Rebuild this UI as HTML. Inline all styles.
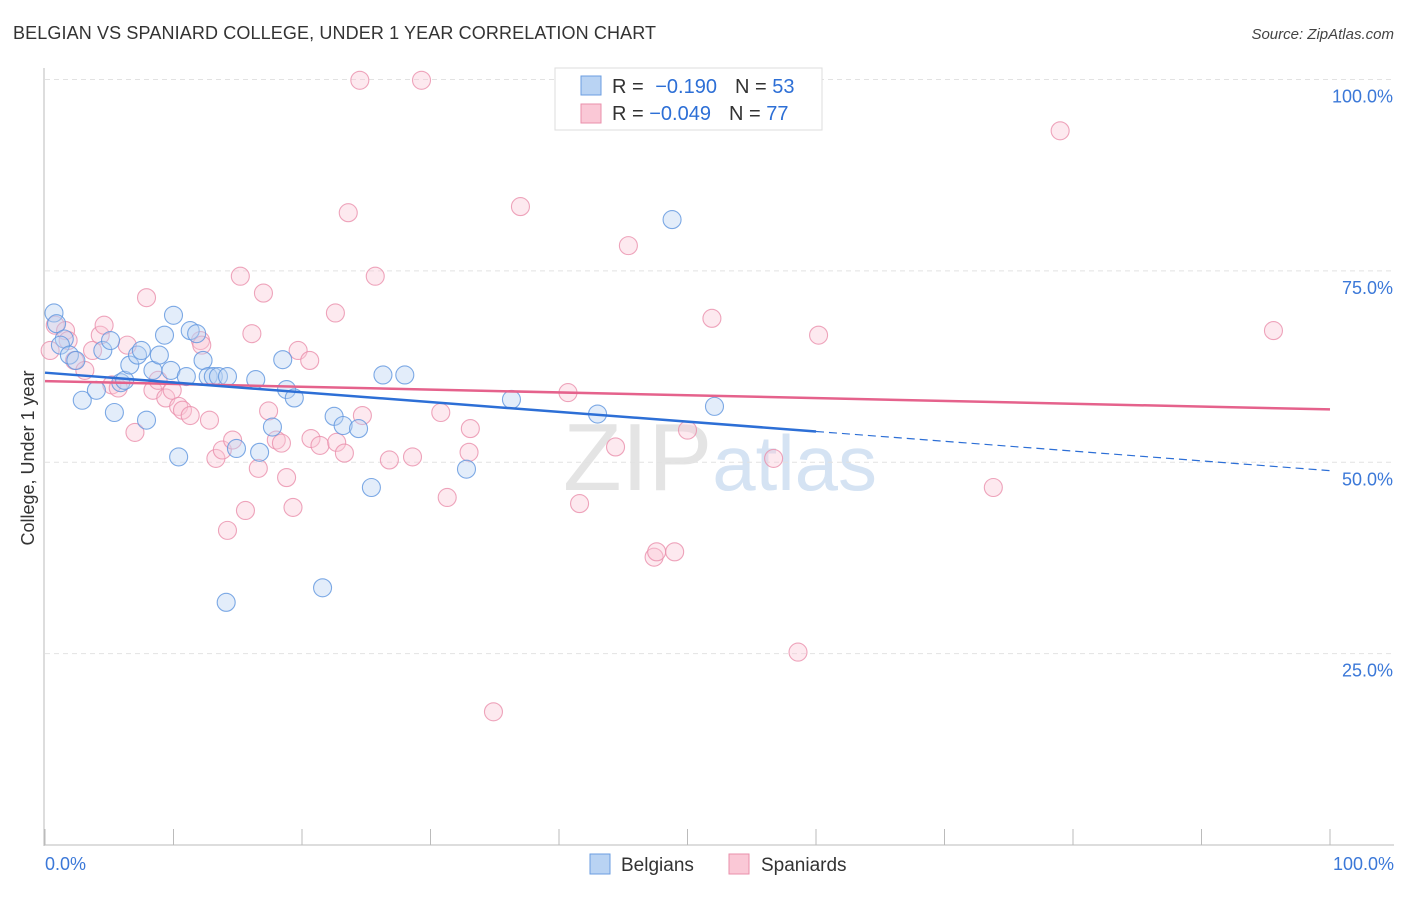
<!DOCTYPE html>
<html><head><meta charset="utf-8"><style>
body{margin:0;background:#fff;font-family:"Liberation Sans",sans-serif;}
svg text{font-family:"Liberation Sans",sans-serif;}
</style></head><body>
<svg id="chart" width="1406" height="892" xmlns="http://www.w3.org/2000/svg">
<text x="13" y="39" font-size="18" fill="#333" textLength="643">BELGIAN VS SPANIARD COLLEGE, UNDER 1 YEAR CORRELATION CHART</text>
<text x="1394" y="39" font-size="15" fill="#444" text-anchor="end" font-style="italic">Source: ZipAtlas.com</text>
<text x="720" y="490" font-size="96" fill="#e4e4e4" text-anchor="middle" font-family="Liberation Serif">ZIP<tspan fill="#d5e3f3" font-family="Liberation Sans" font-size="78">atlas</tspan></text>
<g id="grid"></g>
<g id="axes"></g>
<g id="points"></g>
<g id="trends"></g>
<text transform="translate(34,458) rotate(-90)" font-size="18" fill="#333" text-anchor="middle">College, Under 1 year</text>
<g>
<rect x="555" y="68" width="267" height="62" fill="#fff" stroke="#ddd"/>
<rect x="581" y="76" width="20" height="19" fill="#b9d3f3" stroke="#6b9ee0"/>
<rect x="581" y="104" width="20" height="19" fill="#fac8d6" stroke="#ea8fab"/>
<text x="612" y="93" font-size="20" fill="#333">R =  <tspan fill="#2d6fd6" dx="6">&#8722;0.190</tspan><tspan dx="18">N = </tspan><tspan fill="#2d6fd6">53</tspan></text>
<text x="612" y="120" font-size="20" fill="#333">R = <tspan fill="#2d6fd6">&#8722;0.049</tspan><tspan dx="18">N = </tspan><tspan fill="#2d6fd6">77</tspan></text>
</g>
<g>
<rect x="590" y="854" width="20" height="20" fill="#b9d3f3" stroke="#6b9ee0"/>
<text x="621" y="871" font-size="19" fill="#333">Belgians</text>
<rect x="729" y="854" width="20" height="20" fill="#fac8d6" stroke="#ea8fab"/>
<text x="761" y="871" font-size="19" fill="#333">Spaniards</text>
</g>
</svg>
<script>
const yTicks=[25,50,75,100];
const yTickLabels=["25.0%","50.0%","75.0%","100.0%"];
const xTickLabels=["0.0%","100.0%"];
const belgianX=[0.7,0.9,1.5,1.2,1.9,2.4,2.9,4.0,4.5,5.1,5.4,5.9,6.2,6.6,7.2,7.5,7.9,8.4,8.9,9.3,9.8,10.0,10.4,11.0,11.3,11.8,12.3,12.7,13.1,13.5,14.2,14.1,14.9,16.4,16.7,17.7,18.5,18.8,19.4,21.6,22.5,23.2,24.4,25.4,26.3,28.0,32.8,36.3,43.0,48.8,52.1];
const belgianY=[69.5,68.1,66.1,65.3,64.0,63.3,58.1,59.4,64.6,65.9,56.5,60.4,60.7,62.7,64.0,64.6,55.5,62.0,64.0,66.6,62.0,69.2,50.7,61.2,67.2,66.8,63.3,61.2,61.2,61.2,61.2,31.7,51.8,60.8,51.3,54.6,63.4,59.5,58.4,33.6,56.0,54.8,54.4,46.7,61.4,61.4,49.1,58.2,56.3,81.7,57.3];
const spaniardX=[0.8,1.6,1.8,2.3,3.1,3.7,4.3,4.6,5.2,5.7,6.4,7.0,7.9,8.4,8.8,9.4,9.9,10.4,10.7,11.3,12.1,12.2,12.8,13.3,13.8,14.2,14.6,15.2,15.6,16.1,16.6,17.0,17.4,18.0,18.4,18.8,19.3,19.7,20.6,20.7,21.4,22.6,22.7,23.3,23.6,24.5,24.7,25.7,26.8,28.6,29.3,30.8,31.3,33.1,33.0,34.9,37.0,40.7,41.6,44.4,45.4,47.4,47.6,49.0,50.0,51.9,56.7,58.6,60.2,73.8,79.0,95.6,0.4];
const spaniardY=[67.9,67.2,65.9,63.3,62.0,64.6,66.6,67.9,60.1,59.7,65.3,53.9,71.5,59.4,60.7,58.4,59.4,57.3,56.8,56.1,65.9,65.3,55.5,50.5,51.6,41.1,52.9,74.3,43.7,66.8,49.2,72.1,56.7,52.9,52.5,48.0,44.1,64.6,63.3,53.1,52.2,69.5,52.6,51.2,82.6,99.9,56.1,74.3,50.3,50.7,99.9,56.5,45.4,54.4,51.3,17.4,83.4,59.1,44.6,52.0,78.3,37.6,38.3,38.3,54.2,68.8,50.5,25.2,66.6,46.7,93.3,67.2,64.6];
const belgianTrend=[61.7,-0.128];
const spaniardTrend=[60.6,-0.037];
const NS="http://www.w3.org/2000/svg";
const X=v=>45+v*12.85, Y=v=>845-v*7.655;
function mk(tag,attrs,parent){const e=document.createElementNS(NS,tag);for(const k in attrs)e.setAttribute(k,attrs[k]);document.getElementById(parent).appendChild(e);return e;}
yTicks.forEach((t,i)=>{
  const g=mk('line',{x1:45,x2:1394,y1:Y(t),y2:Y(t),stroke:'#e2e2e2','stroke-dasharray':'5,4'},'grid');
  
  
  const l=mk('text',{x:1393,y:Y(t)+23,'font-size':18,fill:'#3b78d8','text-anchor':'end'},'axes');
  l.textContent=yTickLabels[i];
  
  
});
const ax=mk('line',{x1:44,x2:44,y1:68,y2:846,stroke:'#bbb'},'axes');


const bx=mk('line',{x1:44,x2:1394,y1:845,y2:845,stroke:'#bbb'},'axes');


for(let i=0;i<=10;i++){const t=mk('line',{x1:X(i*10),x2:X(i*10),y1:829,y2:845,stroke:'#bbb'},'axes');
  
  }
[[0,'start',45],[100,'end',1394]].forEach((d,i)=>{const l=mk('text',{x:d[2],y:870,'font-size':18,fill:'#3b78d8','text-anchor':d[1]},'axes');l.textContent=xTickLabels[i];
  
  });
function pts(xs,ys,fill,stroke,name){xs.forEach((x,i)=>{const c=mk('circle',{cx:X(x),cy:Y(ys[i]),r:9,fill:fill,'fill-opacity':0.4,stroke:stroke,'stroke-opacity':0.8,'stroke-width':1.1},'points');
  
  });}
pts(spaniardX,spaniardY,'#fac8d6','#ea8fab','spaniard-point');
pts(belgianX,belgianY,'#b9d3f3','#5e95de','belgian-point');
const bt=v=>belgianTrend[0]+belgianTrend[1]*v, st=v=>spaniardTrend[0]+spaniardTrend[1]*v;
const l1=mk('line',{x1:X(0),y1:Y(st(0)),x2:X(100),y2:Y(st(100)),stroke:'#e5628c','stroke-width':2.5},'trends');


const l2=mk('line',{x1:X(0),y1:Y(bt(0)),x2:X(60),y2:Y(bt(60)),stroke:'#2d6fd6','stroke-width':2.5},'trends');


const l3=mk('line',{x1:X(60),y1:Y(bt(60)),x2:X(100),y2:Y(bt(100)),stroke:'#2d6fd6','stroke-width':1.2,'stroke-dasharray':'8,5'},'trends');


</script>
</body></html>
